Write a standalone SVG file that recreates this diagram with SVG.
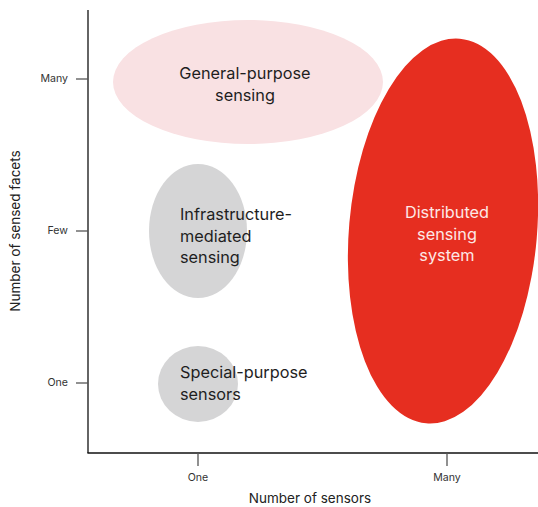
<svg xmlns="http://www.w3.org/2000/svg" width="538" height="507" viewBox="0 0 538 507">
<style>
.lbl{font-family:Inter,"Noto Sans","Liberation Sans",sans-serif;font-size:16.3px;fill:#1e1e1e}
.wl{font-family:Inter,"Noto Sans","Liberation Sans",sans-serif;font-size:16.3px;fill:#fde8e6}
.tk{font-family:Inter,"Liberation Sans",sans-serif;font-size:10.6px;fill:#333}
.ax{font-family:Inter,"Liberation Sans",sans-serif;font-size:13.5px;fill:#222}
.tick{stroke:#555;stroke-width:1.3}
</style>
<rect width="538" height="507" fill="#fff"/>
<g id="general-purpose">
<ellipse cx="248" cy="82" rx="135" ry="62" fill="#f9e1e3"/>
<text class="lbl" text-anchor="middle" x="245" y="79">General-purpose</text>
<text class="lbl" text-anchor="middle" x="245" y="101">sensing</text>
</g>
<g id="distributed">
<ellipse cx="0" cy="0" rx="94" ry="193" fill="#e62e20" transform="translate(443 231) rotate(5)"/>
<text class="wl" text-anchor="middle" x="447" y="218">Distributed</text>
<text class="wl" text-anchor="middle" x="447" y="240">sensing</text>
<text class="wl" text-anchor="middle" x="447" y="261">system</text>
</g>
<g id="infrastructure">
<ellipse cx="198" cy="231" rx="49" ry="67" fill="#d5d5d6"/>
<text class="lbl" x="180" y="220">Infrastructure-</text>
<text class="lbl" x="180" y="242">mediated</text>
<text class="lbl" x="180" y="263">sensing</text>
</g>
<g id="special-purpose">
<ellipse cx="198" cy="384" rx="40" ry="38" fill="#d5d5d6"/>
<text class="lbl" x="180" y="378">Special-purpose</text>
<text class="lbl" x="180" y="400">sensors</text>
</g>
<g id="axes">
<line x1="88" y1="10" x2="88" y2="453" stroke="#111" stroke-width="1.3"/>
<line x1="87.4" y1="453" x2="538" y2="453" stroke="#111" stroke-width="1.3"/>
<line class="tick" x1="76" y1="79" x2="88" y2="79"/>
<line class="tick" x1="76" y1="231" x2="88" y2="231"/>
<line class="tick" x1="76" y1="383" x2="88" y2="383"/>
<line class="tick" x1="198" y1="453" x2="198" y2="466"/>
<line class="tick" x1="447" y1="453" x2="447" y2="466"/>
<text class="tk" text-anchor="end" x="68" y="82">Many</text>
<text class="tk" text-anchor="end" x="68" y="234">Few</text>
<text class="tk" text-anchor="end" x="68" y="386">One</text>
<text class="tk" text-anchor="middle" x="198" y="481">One</text>
<text class="tk" text-anchor="middle" x="447" y="481">Many</text>
<text class="ax" text-anchor="middle" x="310" y="503">Number of sensors</text>
<text class="ax" text-anchor="middle" transform="translate(20 231) rotate(-90)">Number of sensed facets</text>
</g>
</svg>
